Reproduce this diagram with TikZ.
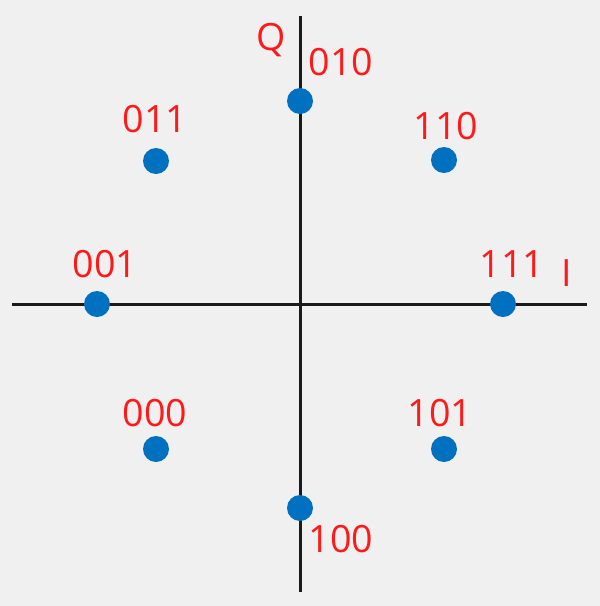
\documentclass[tikz,border=0pt]{standalone}
\usepackage{fontspec}
\setsansfont{Open Sans}
\usepackage{xcolor}
\definecolor{ptblue}{HTML}{0070C0}
\definecolor{lblred}{HTML}{FF1A1A}
\definecolor{bggray}{HTML}{F0F0F0}
\definecolor{axisgray}{HTML}{1A1A1A}

\begin{document}
\begin{tikzpicture}[x=0.5pt,y=-0.5pt,
    sym/.style={circle,fill=ptblue,inner sep=0pt,minimum size=13pt},
    bits/.style={text=lblred,inner sep=0pt,font=\sffamily\fontsize{18.8}{20}\selectfont},
    axis/.style={draw=axisgray,line width=1.5pt}]
      \fill[bggray] (0,0) rectangle (600,606);
      \useasboundingbox (0,0) rectangle (600,606);

      % axes
      \coordinate (il) at (12,304);
      \coordinate (ir) at (587,304);
      \coordinate (qt) at (300,16);
      \coordinate (qb) at (300,592);
      \draw[axis] (il) -- (ir);
      \draw[axis] (qt) -- (qb);
      \node[bits] (qname) at (271,40) {Q};
      \node[bits] (iname) at (567,273) {I};

      % constellation points
      \node[sym] (s010) at (300,101) {};
      \node[sym] (s110) at (444,160) {};
      \node[sym] (s111) at (503,304) {};
      \node[sym] (s101) at (444,449) {};
      \node[sym] (s100) at (300,508) {};
      \node[sym] (s000) at (156,449) {};
      \node[sym] (s001) at (97,304) {};
      \node[sym] (s011) at (156,161) {};

      % bit labels
      \node[bits] (l010) at (341,62) {010};
      \node[bits] (l110) at (446,126) {110};
      \node[bits] (l111) at (512,264) {111};
      \node[bits] (l101) at (440,413) {101};
      \node[bits] (l100) at (341,539) {100};
      \node[bits] (l000) at (155,413) {000};
      \node[bits] (l001) at (105,264) {001};
      \node[bits] (l011) at (155,119) {011};
\end{tikzpicture}
\end{document}
